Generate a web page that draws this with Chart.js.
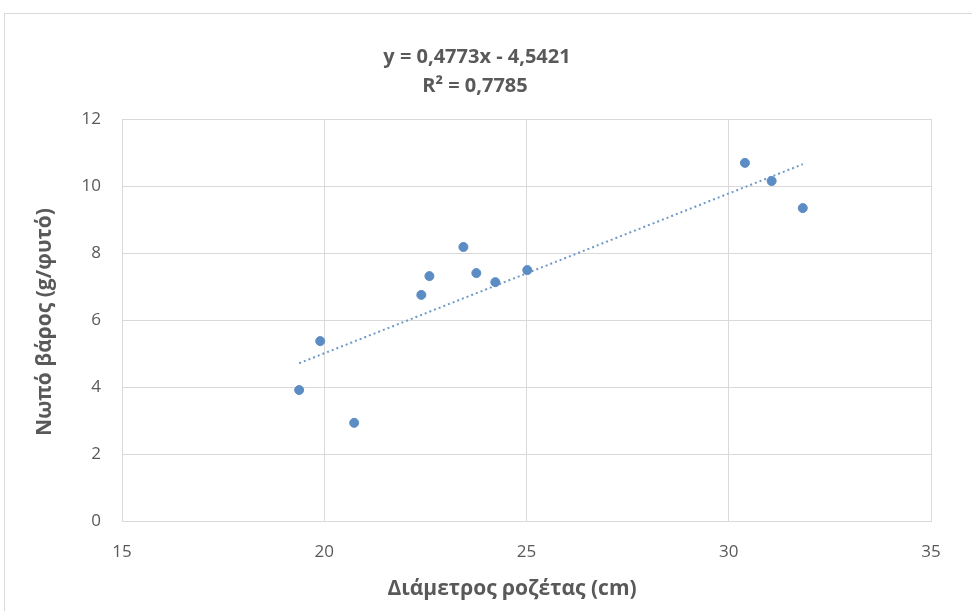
<!DOCTYPE html>
<html>
<head>
<meta charset="utf-8">
<script src="https://cdn.jsdelivr.net/npm/chart.js@4"></script>
<style>
html,body{margin:0;padding:0;background:#fff;overflow:hidden;}
#wrap{position:absolute;left:0;top:0;width:972px;height:611px;}
#frame{position:absolute;left:4px;top:13px;width:1000px;height:700px;border:1px solid #d9d9d9;box-sizing:border-box;}
canvas{position:absolute;left:0;top:0;}
</style>
</head>
<body>
<div id="wrap"><div id="frame"></div><canvas id="c" width="972" height="611"></canvas></div>
<script>
const diameters = [19.38, 19.90, 20.74, 22.40, 22.60, 23.44, 23.76, 24.23, 25.02, 30.40, 31.06, 31.83];
const weights   = [3.91, 5.37, 2.93, 6.75, 7.31, 8.18, 7.40, 7.13, 7.49, 10.69, 10.15, 9.34];
const trendX = [19.38, 31.83];
const trendY = [4.71, 10.65];
const equationLines = ['y = 0,4773x - 4,5421', 'R² = 0,7785'];
const xTitle = 'Διάμετρος ροζέτας (cm)';
const yTitle = 'Νωπό βάρος (g/φυτό)';

const FONT = "'Open Sans', 'Noto Sans', sans-serif";
const TXT = '#595959';
const GRID = '#d9d9d9';

const textPlugin = {
  id: 'texts',
  afterDraw(chart) {
    const ctx = chart.ctx;
    ctx.save();
    ctx.fillStyle = TXT;
    ctx.textAlign = 'center';
    ctx.textBaseline = 'middle';
    ctx.font = "bold 20px " + FONT;
    ctx.fillText(equationLines[0], 477, 57);
    ctx.fillText(equationLines[1], 475, 86);
    ctx.font = "bold 21px " + FONT;
    ctx.fillText(xTitle, 512, 589);
    ctx.translate(45, 322);
    ctx.rotate(-Math.PI / 2);
    ctx.font = "bold 21px " + FONT;
    ctx.fillText(yTitle, 0, 0);
    ctx.restore();
  }
};

new Chart(document.getElementById('c'), {
  type: 'scatter',
  data: {
    datasets: [
      {
        label: 'points',
        data: diameters.map((x, i) => ({x, y: weights[i]})),
        backgroundColor: '#5B8CC3',
        borderColor: '#5B8CC3',
        pointRadius: 4.5,
        pointHoverRadius: 4.5,
        order: 1
      },
      {
        label: 'trend',
        type: 'line',
        data: trendX.map((x, i) => ({x, y: trendY[i]})),
        borderColor: '#6E9AC8',
        borderWidth: 2,
        borderDash: [2, 3],
        pointRadius: 0,
        fill: false,
        order: 2
      }
    ]
  },
  options: {
    responsive: false,
    animation: false,
    devicePixelRatio: 1,
    layout: { padding: { left: 0, top: 119, right: 41, bottom: 0 } },
    plugins: { legend: { display: false }, tooltip: { enabled: false }, title: { display: false } },
    scales: {
      x: {
        type: 'linear', min: 15, max: 35,
        ticks: { stepSize: 5, color: TXT, font: { family: FONT, size: 17 }, padding: 21 },
        grid: { color: GRID, drawTicks: false, lineWidth: 1 },
        border: { color: GRID },
        afterFit(s) { s.height = 90; }
      },
      y: {
        type: 'linear', min: 0, max: 12,
        ticks: { stepSize: 2, color: TXT, font: { family: FONT, size: 17 }, padding: 21 },
        grid: { color: GRID, drawTicks: false, lineWidth: 1 },
        border: { color: GRID },
        afterFit(s) { s.width = 122; }
      }
    }
  },
  plugins: [textPlugin]
});
</script>
</body>
</html>
